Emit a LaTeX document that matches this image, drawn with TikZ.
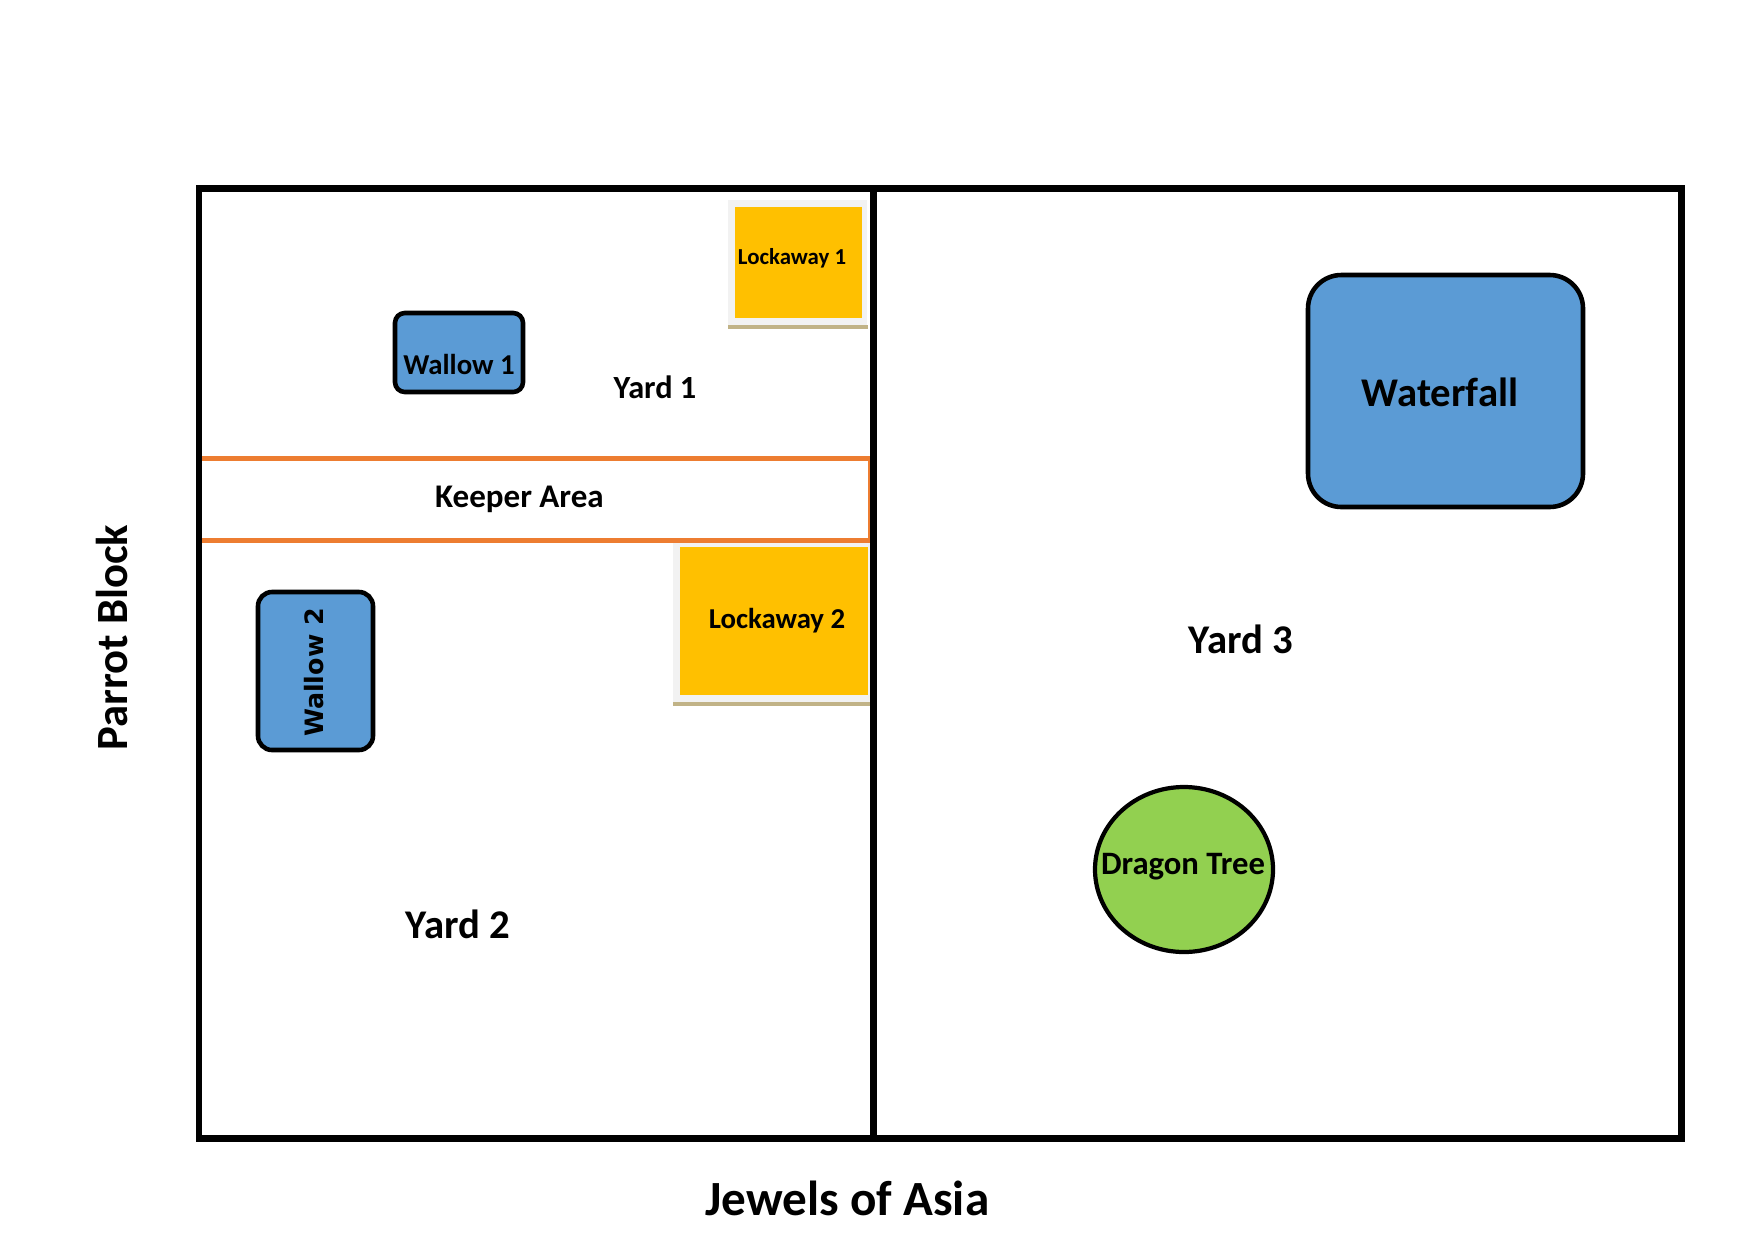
\documentclass[tikz,border=0pt]{standalone}
\usepackage{fontspec}
\setmainfont{Carlito}
\newfontfamily\wallowfont{DejaVu Sans}
\definecolor{poolblue}{HTML}{5B9BD5}
\definecolor{lockyellow}{HTML}{FFC000}
\definecolor{keeperorange}{HTML}{ED7D31}
\definecolor{treegreen}{HTML}{92D050}
\definecolor{lockshadow}{HTML}{C1B387}
\definecolor{lockrim}{HTML}{F2F2F2}
\newcommand{\fsz}[1]{\fontsize{#1}{#1}\selectfont}

\begin{document}
\begin{tikzpicture}[x=0.1mm,y=-0.1mm]
        \tikzset{
          pics/lockaway/.style args={#1/#2}{code={
            \fill[lockrim] (-7,-7) rectangle (#1+5,#2+7);
            \fill[lockshadow] (-7,#2+7) rectangle (#1+6,#2+11);
            \fill[lockyellow] (0,0) rectangle (#1,#2);
            },
          }
        }
        \tikzset{
          wall/.style={black,line width=1.85pt},
          pool/.style={fill=poolblue,draw=black,line width=1.3pt},
          txt/.style={font=\bfseries,inner sep=0pt,anchor=base},
        }
        \useasboundingbox (0,0) rectangle (1754,1240);

        %LOCKAWAYS
        \path (735,207) pic {lockaway={127/111}};
        \path (680,547) pic {lockaway={188/148}};

        %KEEPER AREA
        \draw[keeperorange,line width=1.7pt] (199,458.5) rectangle (871,540.5);

        %WALLS
        \draw[wall] (199,188.5) rectangle (1681.5,1138.5);
        \draw[wall,line width=2pt] (873.5,188.5) -- (873.5,1138.5);

        %POOLS AND TREE
        \draw[pool,rounded corners=2.8pt] (395,313) rectangle (523,392);
        \draw[pool,rounded corners=4pt] (258,592) rectangle (373,750);
        \draw[pool,rounded corners=9.5pt] (1308,275) rectangle (1583,507);
        \draw[fill=treegreen,line width=1.2pt] (1184,869.5) ellipse [x radius=89,y radius=82.5];

        %LABELS
        \node[txt,font=\bfseries\fsz{9.4}] (keeper) at (519.5,507) {Keeper Area};
        \node[txt,font=\bfseries\fsz{9.2}] (yard1) at (655,398) {Yard 1};
        \node[txt,font=\bfseries\fsz{11.6}] (yard2) at (458,938.5) {Yard 2};
        \node[txt,font=\bfseries\fsz{11.6}] (yard3) at (1241,653) {Yard 3};
        \node[txt,font=\bfseries\fsz{6.5}] (lock1) at (792,264) {Lockaway 1};
        \node[txt,font=\bfseries\fsz{8.2}] (lock2) at (777,628) {Lockaway 2};
        \node[txt,font=\bfseries\fsz{8.2}] (wallow1) at (459,374) {Wallow 1};
        \node[txt,font=\wallowfont\bfseries\fsz{7.2},rotate=90] (wallow2) at (323,672.5) {Wallow 2};
        \node[txt,font=\bfseries\fsz{11.6}] (waterfall) at (1440,406) {Waterfall};
        \node[txt,font=\bfseries\fsz{9.3}] (tree) at (1183,874) {Dragon Tree};
        \node[txt,font=\bfseries\fsz{12.7},rotate=90] (parrot) at (127,637.5) {Parrot Block};
        \node[txt,font=\bfseries\fsz{14}] (jewels) at (847.5,1215) {Jewels of Asia};
    \end{tikzpicture}
\end{document}
